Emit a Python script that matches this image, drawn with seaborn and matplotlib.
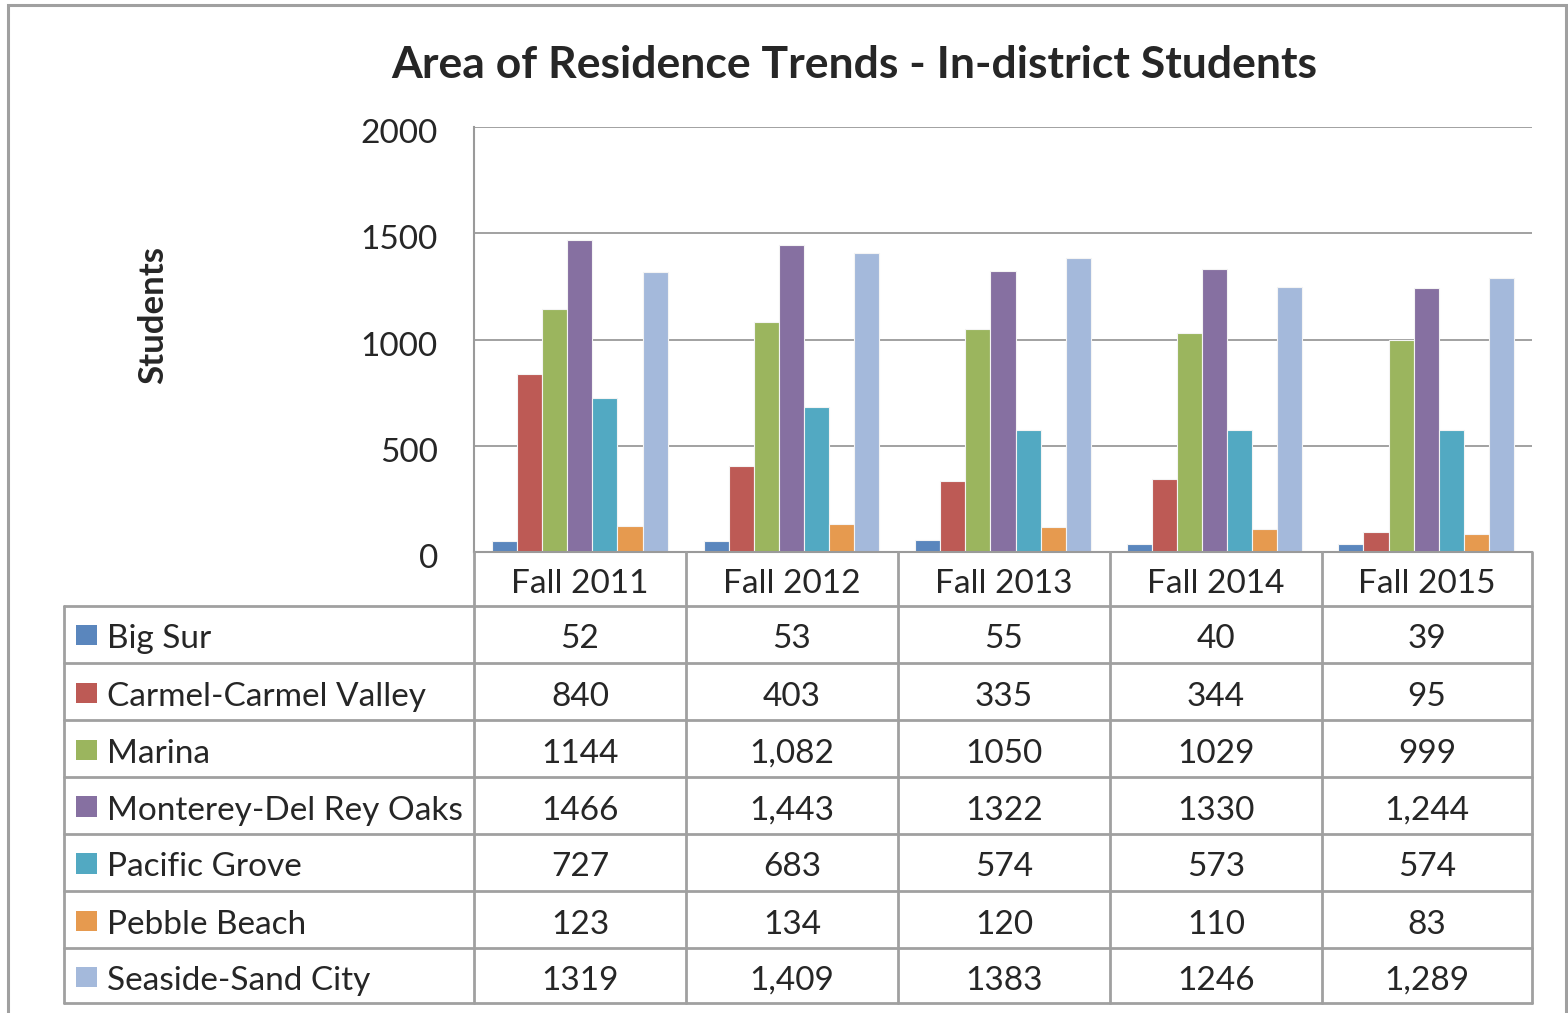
import matplotlib
matplotlib.use("Agg")
import matplotlib.pyplot as plt
import matplotlib.transforms as mtransforms
import pandas as pd
import seaborn as sns
from matplotlib.lines import Line2D
from matplotlib.patches import Rectangle

terms = ["Fall 2011", "Fall 2012", "Fall 2013", "Fall 2014", "Fall 2015"]
areas = ["Big Sur", "Carmel-Carmel Valley", "Marina", "Monterey-Del Rey Oaks",
         "Pacific Grove", "Pebble Beach", "Seaside-Sand City"]

# table strings exactly as shown (the source mixes comma formats)
big_sur = ["52", "53", "55", "40", "39"]
carmel = ["840", "403", "335", "344", "95"]
marina = ["1144", "1,082", "1050", "1029", "999"]
monterey = ["1466", "1,443", "1322", "1330", "1,244"]
pacific_grove = ["727", "683", "574", "573", "574"]
pebble_beach = ["123", "134", "120", "110", "83"]
seaside = ["1319", "1,409", "1383", "1246", "1,289"]

table_rows = [big_sur, carmel, marina, monterey, pacific_grove, pebble_beach, seaside]
colors = ["#5A86BD", "#BD5A55", "#9BB55E", "#8670A1", "#52A9C2", "#E69A4F", "#A4B9DB"]

rows = []
for area, vals in zip(areas, table_rows):
    for term, v in zip(terms, vals):
        rows.append({"term": term, "area": area, "students": int(v.replace(",", ""))})
df = pd.DataFrame(rows)

sns.set_theme(style="white")
plt.rcParams["font.family"] = ["Lato", "DejaVu Sans"]

W, H = 1568, 1013
fig = plt.figure(figsize=(W / 100, H / 100), dpi=100)


def fx(px):
    return px / W


def fy(py):
    return 1 - py / H


ax_l, ax_r, ax_t, ax_b = 474, 1532, 127, 552
ax = fig.add_axes([fx(ax_l), fy(ax_b), fx(ax_r) - fx(ax_l), fy(ax_t) - fy(ax_b)])
sns.barplot(data=df, x="term", y="students", hue="area", hue_order=areas,
            palette=colors, saturation=1, width=0.83, edgecolor="#f4f4f4",
            linewidth=0.8, legend=False, ax=ax)
ax.set_xlim(-0.5, 4.5)
ax.set_ylim(0, 2000)
ax.set_yticks([0, 500, 1000, 1500, 2000])
ax.set_yticklabels(["0", "500", "1000", "1500", "2000"], fontsize=24)
ax.tick_params(axis="y", length=0, pad=26)
# nudge the tick labels down a few pixels, as in the source
shift = mtransforms.ScaledTranslation(0, -4 / 100, fig.dpi_scale_trans)
for lab in ax.get_yticklabels():
    lab.set_transform(lab.get_transform() + shift)
ax.set_xticks([])
ax.set_xlabel("")
ax.set_ylabel("")
ax.yaxis.grid(True, color="#9a9a9a", linewidth=1.3)
ax.set_axisbelow(True)
for s in ["top", "right"]:
    ax.spines[s].set_visible(False)
ax.spines["left"].set_color("#9a9a9a")
ax.spines["left"].set_linewidth(1.5)
ax.spines["bottom"].set_color("#9a9a9a")
ax.spines["bottom"].set_linewidth(1.5)

fig.text(fx(854), fy(65), "Area of Residence Trends - In-district Students",
         ha="center", va="center", fontsize=32, fontweight="bold")
fig.text(fx(153), fy(315), "Students", rotation=90, ha="center", va="center",
         fontsize=25, fontweight="bold")

# outer frame
frame = Rectangle((fx(8), fy(1030)), fx(1566) - fx(8), fy(5) - fy(1030),
                  transform=fig.transFigure, fill=False, edgecolor="#a0a0a0",
                  linewidth=2.2)
fig.add_artist(frame)

# data table under the plot
line_kw = dict(color="#a0a0a0", linewidth=2, transform=fig.transFigure)
col_x = [474, 686, 898, 1110, 1322, 1532]
row_y = [552, 606, 663, 720, 777, 834, 891, 948, 1003]
for x in col_x:
    fig.add_artist(Line2D([fx(x), fx(x)], [fy(552), fy(1003)], **line_kw))
fig.add_artist(Line2D([fx(64), fx(64)], [fy(606), fy(1003)], **line_kw))
for y in row_y[1:]:
    fig.add_artist(Line2D([fx(64), fx(1532)], [fy(y), fy(y)], **line_kw))

for i, term in enumerate(terms):
    cx = (col_x[i] + col_x[i + 1]) / 2
    fig.text(fx(cx), fy((row_y[0] + row_y[1]) / 2 + 5), term,
             ha="center", va="center", fontsize=24)

for r, (area, vals, c) in enumerate(zip(areas, table_rows, colors)):
    cy = (row_y[r + 1] + row_y[r + 2]) / 2 + 5
    fig.add_artist(Rectangle((fx(76), fy(cy + 6)), fx(97) - fx(76),
                             fy(cy - 14) - fy(cy + 6), transform=fig.transFigure,
                             facecolor=c, edgecolor="none"))
    fig.text(fx(107), fy(cy), area, ha="left", va="center", fontsize=24)
    for i, v in enumerate(vals):
        cx = (col_x[i] + col_x[i + 1]) / 2
        fig.text(fx(cx), fy(cy), v, ha="center", va="center", fontsize=24)

fig.savefig("out.png", dpi=100)
